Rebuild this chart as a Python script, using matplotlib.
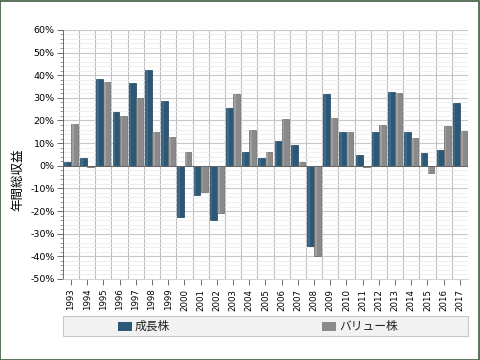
import matplotlib
matplotlib.use("Agg")
import matplotlib.pyplot as plt
import numpy as np
from matplotlib.patches import Rectangle, FancyBboxPatch
from matplotlib.ticker import MultipleLocator, FuncFormatter

plt.rcParams['font.family'] = ['DejaVu Sans', 'Noto Sans CJK JP']

years = [str(y) for y in range(1993, 2018)]
growth = [1.7, 3.4, 38.2, 23.9, 36.7, 42.4, 28.4, -22.5, -12.7, -23.8, 25.7, 5.9, 3.5, 11.1, 9.1,
          -35.4, 31.7, 15.1, 4.6, 14.7, 32.7, 14.7, 5.7, 7.0, 27.7]
value = [18.6, -0.7, 37.2, 21.8, 30.1, 14.7, 12.8, 6.1, -11.6, -21.0, 31.8, 15.9, 6.2, 20.8, 1.8,
         -39.7, 21.2, 15.1, -0.4, 18.0, 32.1, 12.3, -3.4, 17.6, 15.5]
series_names = ['成長株', 'バリュー株']
colors = ['#2b5876', '#8a8a8a']

fig = plt.figure(figsize=(4.8, 3.6), dpi=100)
fig.patch.set_facecolor('white')
ax = fig.add_axes([0.131, 0.225, 0.844, 0.692])

x = np.arange(len(years))
w = 0.42
b1 = ax.bar(x - w/2 - 0.01, growth, w, color=colors[0], edgecolor='#1d3f56', linewidth=0.5, zorder=3)
b2 = ax.bar(x + w/2 + 0.01, value, w, color=colors[1], edgecolor='#6a6a6a', linewidth=0.5, zorder=3)
# light highlight strip for pseudo-3D look
for bars, hc in ((b1, '#4a7a98'), (b2, '#b0b0b0')):
    for r in bars:
        ax.add_patch(Rectangle((r.get_x() + r.get_width()*0.12, r.get_y()), r.get_width()*0.25,
                               r.get_height(), facecolor=hc, edgecolor='none', zorder=3.5, alpha=0.6))

ax.set_xlim(-0.5, len(years) - 0.5)
ax.set_ylim(-50, 60)
ax.yaxis.set_major_locator(MultipleLocator(10))
ax.yaxis.set_minor_locator(MultipleLocator(2))
ax.yaxis.set_major_formatter(FuncFormatter(lambda v, p: f'{int(round(v))}%'))
ax.set_xticks(x)
ax.set_xticklabels(years, rotation=90, fontsize=6.2)
ax.tick_params(axis='y', labelsize=6.8, length=4, width=0.6, color='#555555', pad=2)
ax.tick_params(axis='y', which='minor', length=2, width=0.5, color='#777777')
ax.tick_params(axis='x', length=4, width=0.6, color='#555555', pad=3)

ax.set_xticks(x[:-1] + 0.5, minor=True)
ax.grid(axis='y', which='major', color='#c8c8c8', linewidth=0.8, zorder=0)
ax.grid(axis='y', which='minor', color='#ececec', linewidth=0.6, zorder=0)
ax.grid(axis='x', which='minor', color='#bdbdbd', linewidth=0.8, zorder=0)
ax.tick_params(axis='x', which='minor', length=0)
ax.axhline(0, color='#666666', linewidth=0.7, zorder=4)

for s in ['top', 'right']:
    ax.spines[s].set_visible(False)
ax.spines['left'].set_color('#555555')
ax.spines['left'].set_linewidth(0.6)
ax.spines['bottom'].set_color('#cccccc')
ax.spines['bottom'].set_linewidth(0.6)

fig.text(0.038, 0.5, '年間総収益', rotation=90, va='center', ha='center', fontsize=9,
         family=['Noto Sans CJK JP', 'DejaVu Sans'])

# legend box
lg = FancyBboxPatch((63/480, 1 - 336/360), 405/480, 20/360, boxstyle='square,pad=0',
                    transform=fig.transFigure, facecolor='#f2f2f2', edgecolor='#c8c8c8', linewidth=0.8)
fig.add_artist(lg)
for i, (nm, c, xs) in enumerate(zip(series_names, colors, [118, 322])):
    fig.add_artist(Rectangle((xs/480, 1 - 331/360), 14/480, 9/360, transform=fig.transFigure,
                             facecolor=c, edgecolor='none'))
    fig.text((xs + 17)/480, 1 - 326.5/360, nm, va='center', ha='left', fontsize=8.5,
             family=['Noto Sans CJK JP', 'DejaVu Sans'], color='#222222')

# outer frame
fig.add_artist(Rectangle((0.001, 0.001), 0.996, 0.996, transform=fig.transFigure, fill=False,
                         edgecolor='#3d5a3d', linewidth=1.2))

fig.savefig('out.png', dpi=100)
